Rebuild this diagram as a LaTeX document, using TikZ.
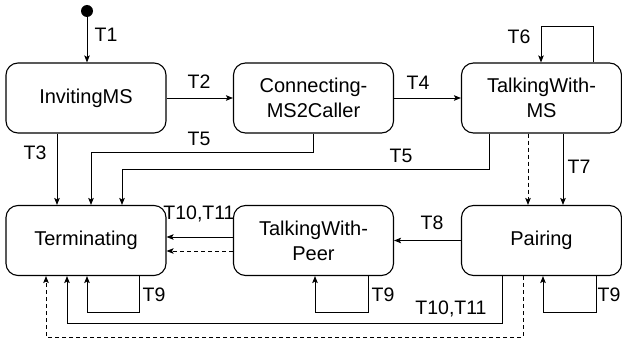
\documentclass[tikz,border=0pt]{standalone}
\usepackage{fontspec}
\setmainfont{Liberation Sans}
\usetikzlibrary{arrows.meta}
\begin{document}
\begin{tikzpicture}[x=1pt,y=-1pt,
  state/.style={draw,line width=1.1pt,rounded corners=12pt,minimum width=160pt,minimum height=70pt,align=center,font=\fontsize{20}{25}\selectfont,inner sep=2pt},
  lab/.style={font=\fontsize{19.5}{22}\selectfont,inner sep=0pt,text height=14pt,text depth=0pt},
  conn/.style={line width=0.9pt,-{Stealth[length=7pt,width=5.5pt,inset=1.5pt]}},
  dsh/.style={conn,dash pattern=on 4pt off 3pt}]
\useasboundingbox (0,0) rectangle (622,345);
\node[state] (inv) at (86,98) {InvitingMS};
\node[state] (con) at (313.5,98) {Connecting-\\MS2Caller};
\node[state] (tms) at (541.5,98) {TalkingWith-\\MS};
\node[state] (term) at (86,240.5) {Terminating};
\node[state] (peer) at (313.5,240.5) {TalkingWith-\\Peer};
\node[state] (pair) at (541.5,240.5) {Pairing};
\node[circle,fill,inner sep=0pt,minimum size=12pt] (init) at (87,11) {};
% connectors
\draw[conn] (init) -- ([xshift=1pt]inv.north);
\draw[conn] (inv.east) -- (con.west);
\draw[conn] (con.east) -- (tms.west);
\draw[conn] ([xshift=51.5pt]tms.north) -- ++(0,-36) -| ([xshift=-0.5pt]tms.north);
\draw[conn] ([xshift=-29pt]inv.south) -- ([xshift=-29pt]term.north);
\draw[conn] (con.south) -- ++(0,19) -| ([xshift=5pt]term.north);
\draw[conn] ([xshift=-52.5pt]tms.south) -- ++(0,36) -| ([xshift=36pt]term.north);
\draw[conn] ([xshift=21.5pt]tms.south) -- ([xshift=21.5pt]pair.north);
\draw[dsh] ([xshift=-13.5pt]tms.south) -- ([xshift=-13.5pt]pair.north);
\draw[conn] (pair.west) -- (peer.east);
\draw[conn] ([yshift=3.5pt]peer.west) -- ([yshift=3.5pt]term.east);
\draw[dsh] ([yshift=-10.5pt]peer.west) -- ([yshift=-10.5pt]term.east);
\draw[conn] ([xshift=53pt]term.south) -- ++(0,36) -| ([xshift=1pt]term.south);
\draw[conn] ([xshift=54.5pt]peer.south) -- ++(0,36) -| ([xshift=1.5pt]peer.south);
\draw[conn] ([xshift=54.5pt]pair.south) -- ++(0,36) -| ([xshift=1.5pt]pair.south);
\draw[conn] ([xshift=-39.5pt]pair.south) -- ++(0,47) -| ([xshift=-19pt]term.south);
\draw[dsh] ([xshift=-18.5pt]pair.south) -- ++(0,61) -| ([xshift=-40pt]term.south);
% labels
\node[lab] (l1) at (106,35) {T1};
\node[lab] (l2) at (199,82) {T2};
\node[lab] (l4) at (418,83) {T4};
\node[lab] (l6) at (519,37) {T6};
\node[lab] (l3) at (35,152) {T3};
\node[lab] (l5a) at (199,139) {T5};
\node[lab] (l5b) at (401,155) {T5};
\node[lab] (l7) at (579,166) {T7};
\node[lab] (l8) at (432,222) {T8};
\node[lab] (l1011a) at (199,212) {T10,T11};
\node[lab] (l9a) at (154,294) {T9};
\node[lab] (l9b) at (383,294) {T9};
\node[lab] (l9c) at (609,294) {T9};
\node[lab] (l1011b) at (451,307) {T10,T11};
\end{tikzpicture}
\end{document}
